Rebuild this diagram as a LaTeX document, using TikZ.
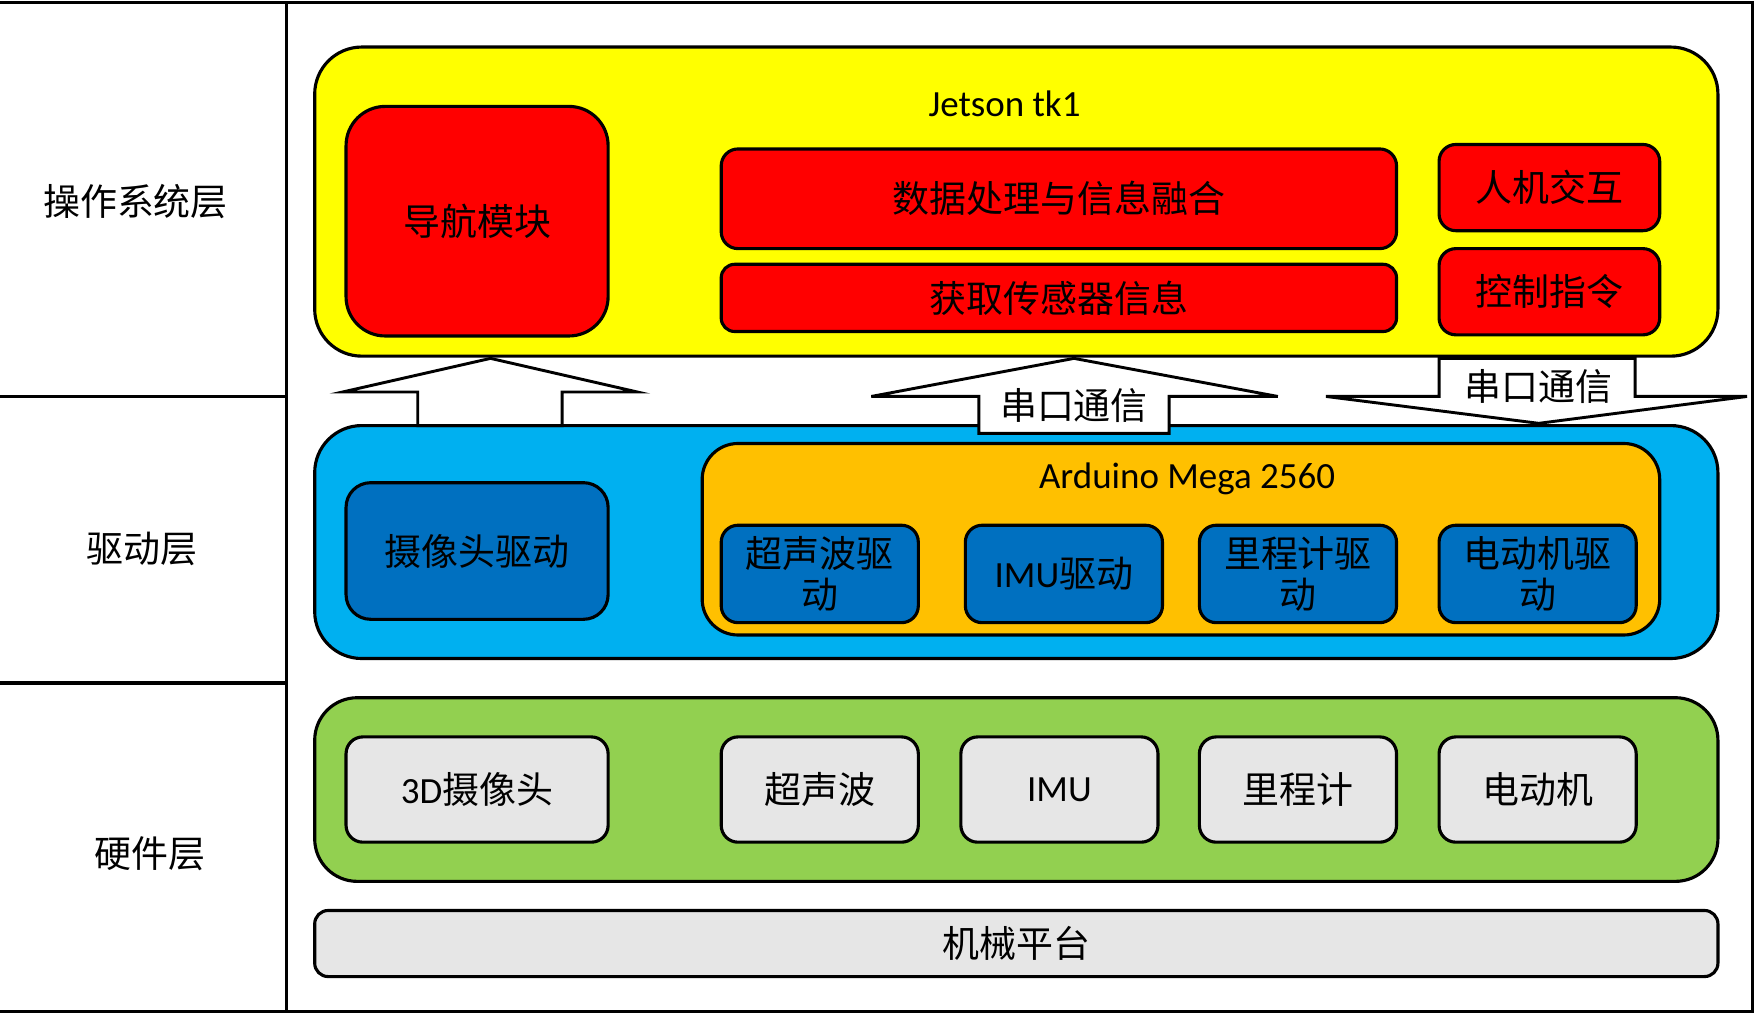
\documentclass[tikz,border=0pt]{standalone}
\usepackage{fontspec}
\setmainfont{Carlito}
\newfontfamily\cjk{Noto Sans CJK SC}
\definecolor{cyel}{HTML}{FFFF00}
\definecolor{cred}{HTML}{FF0000}
\definecolor{cblue}{HTML}{00B0F0}
\definecolor{cdblue}{HTML}{0070C0}
\definecolor{corange}{HTML}{FFC000}
\definecolor{cgreen}{HTML}{92D050}
\definecolor{cgray}{HTML}{E6E6E6}
\tikzset{
  bx/.style={draw=black, line width=2.8pt, rounded corners=#1, inner sep=0pt, align=center,
    font=\fontsize{33}{36}\selectfont},
  txt/.style={inner sep=0pt, align=center, font=\fontsize{33}{36}\selectfont},
  frame/.style={line width=3pt, line cap=rect},
  blockarrow/.style={draw=black, fill=white, line width=2.6pt, line join=miter},
}
\begin{document}
\begin{tikzpicture}[x=1pt, y=-1pt]
\useasboundingbox (0,0) rectangle (1568,906);
% frame
\draw[frame] (0,2) -- (1565,2) -- (1565,903) -- (0,903);
\draw[frame] (256,2) -- (256,903);
\draw[frame] (0,354) -- (256,354);
\draw[frame] (0,610) -- (256,610);
\node[txt] (l1) at (121,180) {\cjk 操作系统层};
\node[txt] (l2) at (127,490) {\cjk 驱动层};
\node[txt] (l3) at (134,762) {\cjk 硬件层};
% OS layer
\node[bx=42, fill=cyel, minimum width=1253pt, minimum height=276pt] (yellow) at (907.5,180) {};
\node[txt] (jetson) at (897,93) {Jetson tk1};
\node[bx=35, fill=cred, minimum width=234pt, minimum height=205pt] (nav) at (426,197.5) {\cjk 导航模块};
\node[bx=15, fill=cred, minimum width=603pt, minimum height=89pt] (data) at (945.5,177.5) {\cjk 数据处理与信息融合};
\node[bx=12, fill=cred, minimum width=603pt, minimum height=60pt] (acq) at (945.5,266) {\cjk 获取传感器信息};
\node[bx=15, fill=cred, minimum width=197pt, minimum height=77pt] (hmi) at (1383.5,167.5) {\cjk 人机交互};
\node[bx=15, fill=cred, minimum width=197pt, minimum height=77pt] (ctrl) at (1383.5,260.5) {\cjk 控制指令};
% driver layer
\node[bx=42, fill=cblue, minimum width=1253pt, minimum height=208pt] (blue) at (907.5,484) {};
\node[bx=22, fill=cdblue, minimum width=234pt, minimum height=122pt] (camdrv) at (426,492) {\cjk 摄像头驱动};
\node[bx=32, fill=corange, minimum width=855pt, minimum height=171pt] (orange) at (1054.5,481.5) {};
\node[txt] (arduino) at (1060,428) {Arduino Mega 2560};
\node[bx=15, fill=cdblue, minimum width=176pt, minimum height=87pt] (usdrv) at (732,512.5) {\cjk 超声波驱\\\cjk 动};
\node[bx=15, fill=cdblue, minimum width=176pt, minimum height=87pt] (imudrv) at (950,512.5) {IMU{\cjk 驱动}};
\node[bx=15, fill=cdblue, minimum width=176pt, minimum height=87pt] (ododrv) at (1159,512.5) {\cjk 里程计驱\\\cjk 动};
\node[bx=15, fill=cdblue, minimum width=176pt, minimum height=87pt] (motdrv) at (1373,512.5) {\cjk 电动机驱\\\cjk 动};
% hardware layer
\node[bx=38, fill=cgreen, minimum width=1253pt, minimum height=164pt] (green) at (907.5,705) {};
\node[bx=15, fill=cgray, minimum width=234pt, minimum height=94pt] (cam) at (426,705) {3D{\cjk 摄像头}};
\node[bx=15, fill=cgray, minimum width=176pt, minimum height=94pt] (us) at (732,705) {\cjk 超声波};
\node[bx=15, fill=cgray, minimum width=176pt, minimum height=94pt] (imu) at (946,705) {IMU};
\node[bx=15, fill=cgray, minimum width=176pt, minimum height=94pt] (odo) at (1159,705) {\cjk 里程计};
\node[bx=15, fill=cgray, minimum width=176pt, minimum height=94pt] (mot) at (1373,705) {\cjk 电动机};
\node[bx=12, fill=cgray, minimum width=1253pt, minimum height=59pt] (mech) at (907.5,842.5) {\cjk 机械平台};
% block arrows
\draw[blockarrow] (373,380) -- (373,350) -- (306,350) -- (438,320) -- (569,350) -- (502,350) -- (502,380) -- cycle;
\draw[blockarrow] (874,387) -- (874,354) -- (778,354) -- (959,320) -- (1141,354) -- (1044,354) -- (1044,387) -- cycle;
\node[txt] (ser1) at (959,362) {\cjk 串口通信};
\draw[blockarrow] (1285,320) -- (1285,354) -- (1184,354) -- (1374,378) -- (1560,354) -- (1460,354) -- (1460,320) -- cycle;
\node[txt] (ser2) at (1374,345) {\cjk 串口通信};
\end{tikzpicture}
\end{document}
